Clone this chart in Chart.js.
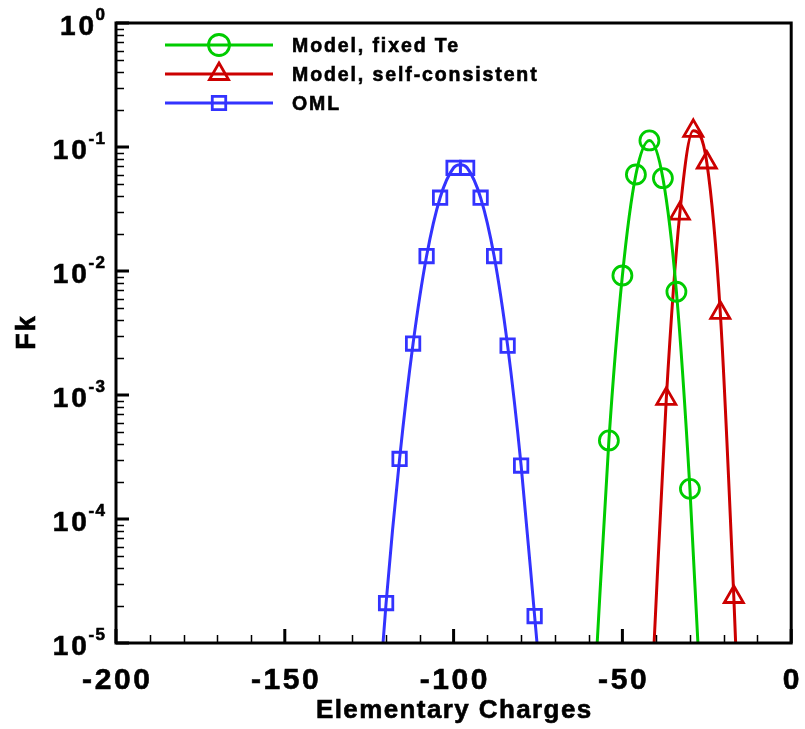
<!DOCTYPE html>
<html>
<head>
<meta charset="utf-8">
<title>Fk vs Elementary Charges</title>
<script src="https://cdn.jsdelivr.net/npm/chart.js@4.4.1/dist/chart.umd.min.js"></script>
<style>
    html, body { margin: 0; padding: 0; background: #ffffff; }
    canvas { display: block; }
</style>
</head>
<body>
<canvas id="fkChart" width="805" height="729"></canvas>
<script>
// Charge distribution Fk of the grains

// Model, fixed Te (circles)
const fixedTeCharge = [-54, -50, -46, -42, -38, -34, -30];
const fixedTeFk = [4.3e-4, 9.2e-3, 6.0e-2, 1.13e-1, 5.6e-2, 6.8e-3, 1.75e-4];
const fixedTeTailCharge = [-58, -26];
const fixedTeTailFk = [5.5e-6, 1.3e-6];

// Model, self-consistent (triangles)
const selfConsCharge = [-37, -33, -29, -25, -21, -17];
const selfConsFk = [9.3e-4, 2.9e-2, 1.35e-1, 7.5e-2, 4.6e-3, 2.35e-5];
const selfConsTailCharge = [-41, -15];
const selfConsTailFk = [6e-6, 1e-6];

// OML (squares)
const omlCharge = [-120, -116, -112, -108, -104, -100, -96, -92, -88, -84, -80, -76];
const omlFk = [2.1e-5, 3.05e-4, 2.6e-3, 1.32e-2, 3.9e-2, 6.8e-2, 6.8e-2, 3.9e-2, 1.32e-2, 2.5e-3, 2.7e-4, 1.65e-5];
const omlTailCharge = [-122, -98, -74];
const omlTailFk = [4e-6, 7.2e-2, 4e-6];

const seriesNames = ['Model, fixed Te', 'Model, self-consistent', 'OML'];
const xTicks = [-200, -150, -100, -50, 0];
const yTickExponents = [0, -1, -2, -3, -4, -5];
const xTitle = 'Elementary Charges';
const yTitle = 'Fk';

const FONT = "'Liberation Sans', Arial, Helvetica, sans-serif";
const GREEN = '#00cc00';
const RED = '#cc0000';
const BLUE = '#3333ff';

function markerPoints(xs, ys) {
    return xs.map((x, i) => ({ x: x, y: ys[i] }));
}

// smooth curve goes through the symbols plus a few extra points (peak, tails)
function curvePoints(xs, ys, tailXs, tailYs) {
    return markerPoints(xs, ys)
        .concat(markerPoints(tailXs, tailYs))
        .sort((a, b) => a.x - b.x);
}

const series = [
    { name: seriesNames[0], color: GREEN, style: 'circle', radius: 9.5,
      curve: curvePoints(fixedTeCharge, fixedTeFk, fixedTeTailCharge, fixedTeTailFk),
      marks: markerPoints(fixedTeCharge, fixedTeFk) },
    { name: seriesNames[1], color: RED, style: 'triangle', radius: 11,
      curve: curvePoints(selfConsCharge, selfConsFk, selfConsTailCharge, selfConsTailFk),
      marks: markerPoints(selfConsCharge, selfConsFk) },
    { name: seriesNames[2], color: BLUE, style: 'rect', radius: 9.5,
      curve: curvePoints(omlCharge, omlFk, omlTailCharge, omlTailFk),
      marks: markerPoints(omlCharge, omlFk) }
];

const datasets = [];
series.forEach(s => {
    datasets.push({
        label: s.name,
        data: s.curve,
        borderColor: s.color,
        borderWidth: 3,
        pointRadius: 0,
        cubicInterpolationMode: 'monotone',
        fill: false
    });
    datasets.push({
        label: s.name + ' symbols',
        data: s.marks,
        showLine: false,
        pointStyle: s.style,
        pointRadius: s.radius,
        pointHoverRadius: s.radius,
        pointBorderWidth: 2.8,
        pointBorderColor: s.color,
        pointBackgroundColor: 'rgba(0,0,0,0)'
    });
});

// bold text with a little extra tracking, thickened by a thin outline
function spacedText(ctx, text, x, y, size, spacing, align) {
    ctx.font = 'bold ' + size + 'px ' + FONT;
    ctx.letterSpacing = spacing + 'px';
    ctx.textAlign = align;
    let dx = 0;
    if (align === 'center') dx = spacing / 2;
    if (align === 'right') dx = spacing;
    ctx.fillText(text, x + dx, y);
    ctx.lineWidth = 0.6;
    ctx.strokeStyle = '#000';
    ctx.strokeText(text, x + dx, y);
    const w = ctx.measureText(text).width;
    ctx.letterSpacing = '0px';
    return w;
}

// frame, inward ticks, tick labels, titles and legend
const framePlugin = {
    id: 'frame',
    afterDraw(chart) {
        const ctx = chart.ctx;
        const area = chart.chartArea;
        const xs = chart.scales.x;
        const ys = chart.scales.y;
        ctx.save();
        ctx.strokeStyle = '#000';
        ctx.fillStyle = '#000';

        // minor ticks
        ctx.lineWidth = 1.5;
        ctx.beginPath();
        for (let e = -5; e < 0; e++) {
            for (let m = 2; m <= 9; m++) {
                const py = Math.round(ys.getPixelForValue(m * Math.pow(10, e))) + 0.5;
                ctx.moveTo(area.left, py);
                ctx.lineTo(area.left + 8, py);
            }
        }
        for (let v = -190; v < 0; v += 10) {
            if (v % 50 === 0) continue;
            const px = Math.round(xs.getPixelForValue(v)) + 0.5;
            ctx.moveTo(px, area.bottom);
            ctx.lineTo(px, area.bottom - 8);
        }
        ctx.stroke();

        // major ticks
        ctx.lineWidth = 3;
        ctx.beginPath();
        yTickExponents.forEach(e => {
            const py = ys.getPixelForValue(Math.pow(10, e));
            ctx.moveTo(area.left, py);
            ctx.lineTo(area.left + 13, py);
        });
        xTicks.forEach(v => {
            const px = xs.getPixelForValue(v);
            ctx.moveTo(px, area.bottom);
            ctx.lineTo(px, area.bottom - 14);
        });
        ctx.stroke();

        // frame
        ctx.lineWidth = 3;
        ctx.strokeRect(area.left, area.top, area.right - area.left, area.bottom - area.top);

        // x tick labels
        ctx.textBaseline = 'alphabetic';
        xTicks.forEach(v => {
            spacedText(ctx, String(v), xs.getPixelForValue(v), 689, 30, 2.6, 'center');
        });

        // y tick labels as 10 with superscript exponent
        yTickExponents.forEach(e => {
            const py = ys.getPixelForValue(Math.pow(10, e));
            const ew = spacedText(ctx, String(e), 105, py - 3, 17, 1.5, 'right');
            spacedText(ctx, '10', 105 - ew, py + 11.5, 28, 3, 'right');
        });

        // axis titles
        spacedText(ctx, xTitle, (area.left + area.right) / 2, 718, 26, 1.4, 'center');
        ctx.save();
        ctx.translate(35, (area.top + area.bottom) / 2);
        ctx.rotate(-Math.PI / 2);
        spacedText(ctx, yTitle, 0, 0, 27, 2, 'center');
        ctx.restore();

        // legend: line with symbol in the middle
        const rows = [45, 74, 103];
        series.forEach((s, i) => {
            const y = rows[i];
            ctx.strokeStyle = s.color;
            ctx.lineWidth = 3;
            ctx.beginPath();
            ctx.moveTo(165, y);
            ctx.lineTo(273, y);
            ctx.stroke();
            ctx.lineWidth = 2.8;
            ctx.fillStyle = 'rgba(0,0,0,0)';
            Chart.helpers.drawPoint(ctx, {
                pointStyle: s.style,
                radius: s.style === 'circle' ? 10.5 : s.radius,
                borderWidth: 2.8,
                rotation: 0
            }, 219, y);
            ctx.fillStyle = '#000';
            spacedText(ctx, s.name, 292, y + 6.7, 19.5, 1.9, 'left');
        });

        ctx.restore();
    }
};

const chart = new Chart(document.getElementById('fkChart').getContext('2d'), {
    type: 'line',
    data: { datasets: datasets },
    options: {
        responsive: false,
        animation: false,
        layout: {
            padding: { left: 116, top: 23, right: 10, bottom: 86 }
        },
        scales: {
            x: { type: 'linear', min: -200, max: 0, display: false },
            y: { type: 'logarithmic', min: 1e-5, max: 1, display: false }
        },
        plugins: {
            legend: { display: false },
            tooltip: { enabled: false }
        }
    },
    plugins: [framePlugin]
});
</script>
</body>
</html>
